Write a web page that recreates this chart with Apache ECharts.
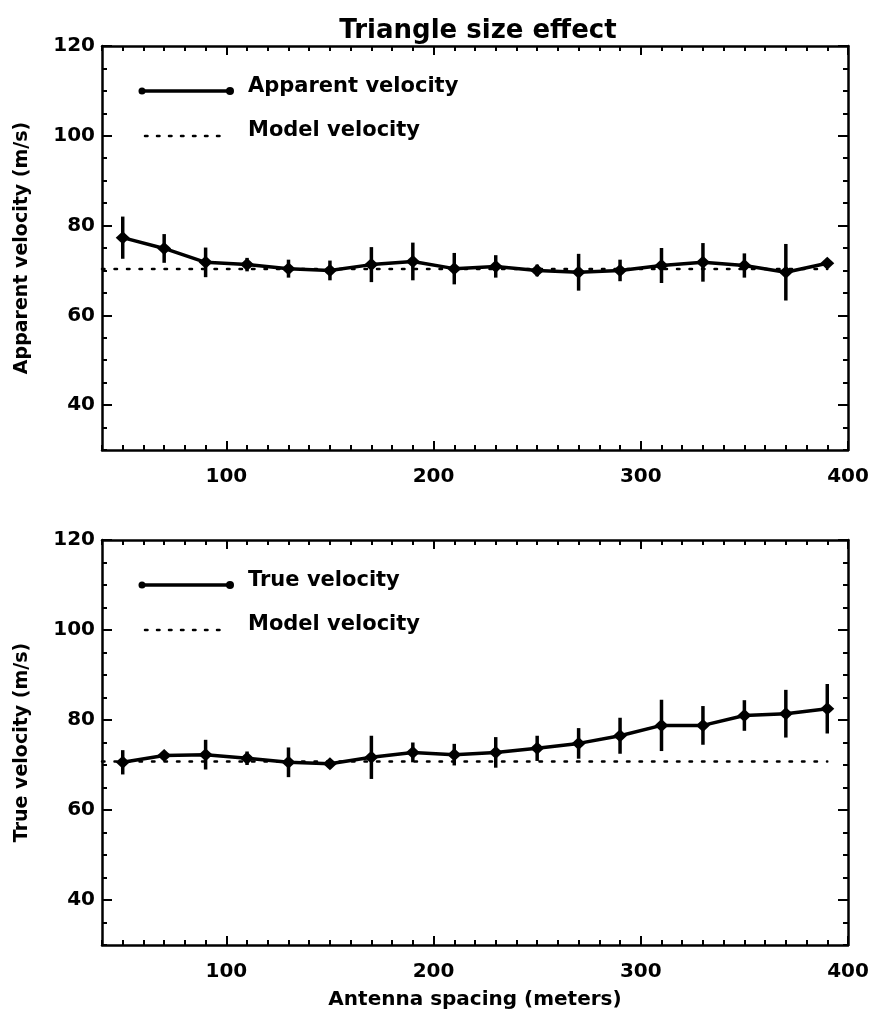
<!DOCTYPE html>
<html>
<head>
<meta charset="utf-8">
<script src="https://cdn.jsdelivr.net/npm/echarts@6/dist/echarts.min.js"></script>
<style>
html,body{margin:0;padding:0;background:#fff;}
#chart{width:874px;height:1011px;}
</style>
</head>
<body>
<div id="chart"></div>
<script>
// ---- data ----
const spacing = [50, 70, 90, 110, 130, 150, 170, 190, 210, 230, 250, 270, 290, 310, 330, 350, 370, 390];
const apparentVelocity = [77.3, 74.9, 71.8, 71.3, 70.4, 70.0, 71.3, 72.0, 70.4, 70.9, 70.0, 69.6, 70.0, 71.1, 71.8, 71.1, 69.6, 71.6];
const apparentError    = [4.7, 3.2, 3.3, 1.5, 2.0, 2.2, 3.9, 4.2, 3.5, 2.5, 1.3, 4.1, 2.4, 3.9, 4.3, 2.7, 6.3, 1.0];
const trueVelocity = [70.6, 72.1, 72.3, 71.5, 70.6, 70.3, 71.7, 72.8, 72.3, 72.8, 73.7, 74.8, 76.5, 78.8, 78.8, 81.0, 81.4, 82.5];
const trueError    = [2.7, 0.8, 3.3, 1.5, 3.3, 1.0, 4.8, 2.2, 2.4, 3.4, 2.8, 3.4, 4.0, 5.7, 4.3, 3.4, 5.3, 5.5];
const modelVelocity = [70.3, 70.8];
const modelRange = [40, 390];
const xTicks = [100, 200, 300, 400];
const yTicks = [40, 60, 80, 100, 120];
const xRange = [40, 400];
const yRange = [30, 120];
const xMinorStep = 10;
const yMinorStep = 5;

const titleText = 'Triangle size effect';
const xName = 'Antenna spacing (meters)';
const panelNames = ['Apparent velocity (m/s)', 'True velocity (m/s)'];
const legendNames = [['Apparent velocity', 'Model velocity'], ['True velocity', 'Model velocity']];

// ---- build ----
const FONT = '"DejaVu Sans", sans-serif';
const xMinor = []; for (let v = xRange[0]; v <= xRange[1]; v += xMinorStep) xMinor.push(v);
const yMinor = []; for (let v = yRange[0]; v <= yRange[1]; v += yMinorStep) yMinor.push(v);

const grids = [
  {left: 102, right: 26, top: 46, height: 404},
  {left: 102, right: 26, top: 540, height: 405}
];

const xAxes = [], yAxes = [];
const lineW = 2.5;
function mkX(g, pos, ticks, len, showLine, labels, name) {
  xAxes.push({
    gridIndex: g, type: 'value', min: xRange[0], max: xRange[1], position: pos,
    axisLine: {show: showLine, onZero: false, lineStyle: {color: '#000', width: lineW}},
    axisTick: {show: true, inside: true, length: len, customValues: ticks, lineStyle: {color: '#000', width: 2}},
    axisLabel: labels ? {show: true, customValues: xTicks, color: '#000', fontFamily: FONT, fontWeight: 'bold', fontSize: 20, margin: 17} : {show: false},
    splitLine: {show: false},
    name: name || '', nameLocation: 'middle', nameGap: 45,
    nameTextStyle: {color: '#000', fontFamily: FONT, fontWeight: 'bold', fontSize: 20}
  });
  return xAxes.length - 1;
}
function mkY(g, pos, ticks, len, showLine, labels, name) {
  yAxes.push({
    gridIndex: g, type: 'value', min: yRange[0], max: yRange[1], position: pos,
    axisLine: {show: showLine, onZero: false, lineStyle: {color: '#000', width: lineW}},
    axisTick: {show: true, inside: true, length: len, customValues: ticks, lineStyle: {color: '#000', width: 2}},
    axisLabel: labels ? {show: true, customValues: yTicks, color: '#000', fontFamily: FONT, fontWeight: 'bold', fontSize: 20, margin: 7} : {show: false},
    splitLine: {show: false},
    name: name || '', nameLocation: 'middle', nameGap: 70,
    nameTextStyle: {color: '#000', fontFamily: FONT, fontWeight: 'bold', fontSize: 19}
  });
  return yAxes.length - 1;
}

const series = [];
const graphics = [];
const panels = [
  {vel: apparentVelocity, err: apparentError},
  {vel: trueVelocity, err: trueError}
];

panels.forEach((p, g) => {
  const xi = mkX(g, 'bottom', xTicks, 9, true, true, g === 1 ? xName : '');
  mkX(g, 'bottom', xMinor, 5, false, false);
  mkX(g, 'top', xTicks, 9, true, false);
  mkX(g, 'top', xMinor, 5, false, false);
  const yi = mkY(g, 'left', yTicks, 10, true, true, panelNames[g]);
  mkY(g, 'left', yMinor, 5, false, false);
  mkY(g, 'right', yTicks, 10, true, false);
  mkY(g, 'right', yMinor, 5, false, false);

  series.push({
    type: 'line', xAxisIndex: xi, yAxisIndex: yi, silent: true,
    data: modelRange.map(x => [x, modelVelocity[g]]),
    symbol: 'none',
    lineStyle: {color: '#000', width: 2.5, type: [2.5, 10], cap: 'round'}
  });
  series.push({
    type: 'custom', xAxisIndex: xi, yAxisIndex: yi, silent: true,
    data: spacing.map((x, i) => [x, p.vel[i] - p.err[i], p.vel[i] + p.err[i]]),
    encode: {x: 0, y: [1, 2]},
    renderItem: function (params, api) {
      const a = api.coord([api.value(0), api.value(1)]);
      const b = api.coord([api.value(0), api.value(2)]);
      return {type: 'line', shape: {x1: a[0], y1: a[1], x2: b[0], y2: b[1]}, style: {stroke: '#000', lineWidth: 3.5}};
    }
  });
  series.push({
    type: 'line', xAxisIndex: xi, yAxisIndex: yi, silent: true,
    data: spacing.map((x, i) => [x, p.vel[i]]),
    symbol: 'diamond', symbolSize: [14, 13],
    itemStyle: {color: '#000'},
    lineStyle: {color: '#000', width: 3.5}
  });

  // legend drawn as graphic
  const base = grids[g].top;
  const y1 = base + 45, y2 = base + 90;
  graphics.push({type: 'line', shape: {x1: 142, y1: y1, x2: 230, y2: y1}, style: {stroke: '#000', lineWidth: 3.5}});
  graphics.push({type: 'circle', shape: {cx: 142, cy: y1, r: 3.5}, style: {fill: '#000'}});
  graphics.push({type: 'circle', shape: {cx: 230, cy: y1, r: 4}, style: {fill: '#000'}});
  graphics.push({type: 'text', x: 248, y: y1 - 4, style: {text: legendNames[g][0], fill: '#000', font: 'bold 21px ' + FONT, textVerticalAlign: 'middle', verticalAlign: 'middle'}});
  graphics.push({type: 'line', shape: {x1: 145, y1: y2, x2: 228, y2: y2}, style: {stroke: '#000', lineWidth: 2.5, lineDash: [2.5, 9.5], lineCap: 'round'}});
  graphics.push({type: 'text', x: 248, y: y2 - 5, style: {text: legendNames[g][1], fill: '#000', font: 'bold 21px ' + FONT, textVerticalAlign: 'middle', verticalAlign: 'middle'}});
});

graphics.push({type: 'text', x: 478, y: 31, style: {text: titleText, fill: '#000', font: 'bold 26px ' + FONT, textAlign: 'center', align: 'center', textVerticalAlign: 'middle', verticalAlign: 'middle'}});

const chart = echarts.init(document.getElementById('chart'), null, {renderer: 'canvas'});
chart.setOption({
  animation: false,
  backgroundColor: '#fff',
  grid: grids,
  xAxis: xAxes,
  yAxis: yAxes,
  series: series,
  graphic: graphics
});
</script>
</body>
</html>
